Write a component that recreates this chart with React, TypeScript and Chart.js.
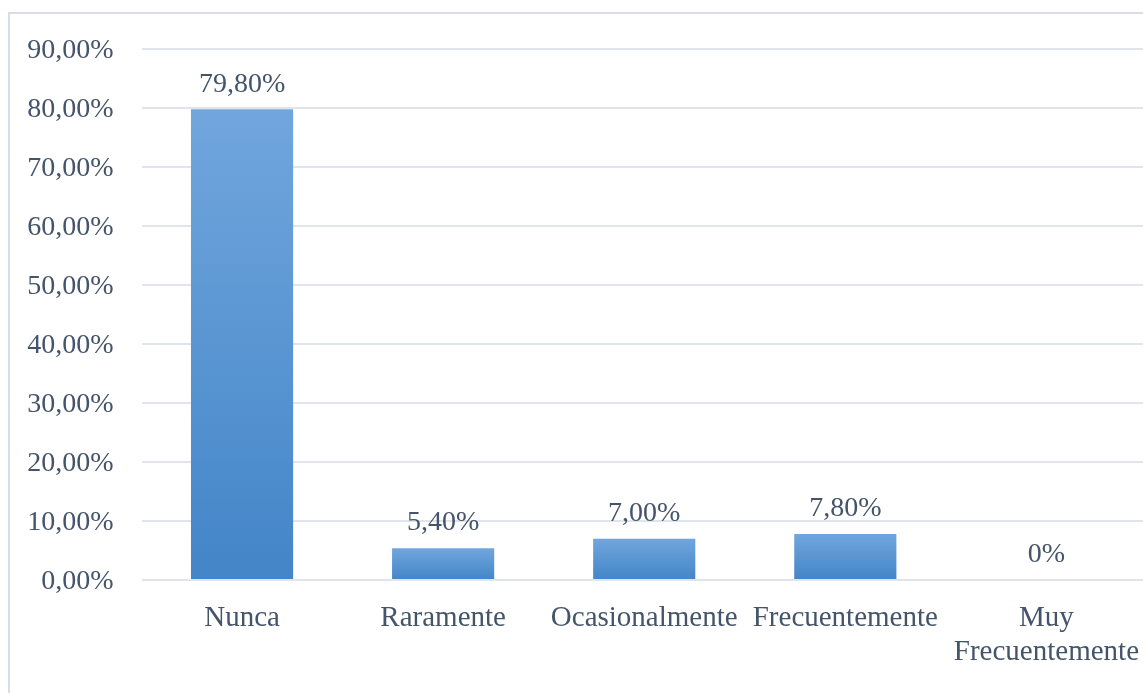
import React, { useEffect, useRef } from "react";
import { Chart, registerables } from "chart.js";

Chart.register(...registerables);

const categories: (string | string[])[] = ["Nunca", "Raramente", "Ocasionalmente", "Frecuentemente", ["Muy", "Frecuentemente"]];
const values: number[] = [79.8, 5.4, 7.0, 7.8, 0];
const valueLabels: string[] = ["79,80%", "5,40%", "7,00%", "7,80%", "0%"];
const yTicks: number[] = [0, 10, 20, 30, 40, 50, 60, 70, 80, 90];

const TEXT = "#44546a";
const FONT = "'Liberation Serif', 'Times New Roman', serif";

export default function App() {
  const ref = useRef<HTMLCanvasElement | null>(null);

  useEffect(() => {
    if (!ref.current) return;
    const frame = {
      id: "frame",
      beforeDraw(chart: any) {
        const ctx = chart.ctx;
        ctx.save();
        ctx.fillStyle = "#ffffff";
        ctx.fillRect(0, 0, chart.width, chart.height);
        ctx.fillStyle = "#d9dde4";
        ctx.fillRect(8, 12, 2, 800);
        ctx.fillRect(8, 12, 1300, 2);
        ctx.restore();
      },
    };
    const dataLabels = {
      id: "dataLabels",
      afterDatasetsDraw(chart: any) {
        const ctx = chart.ctx;
        const meta = chart.getDatasetMeta(0);
        ctx.save();
        ctx.font = `28px ${FONT}`;
        ctx.fillStyle = TEXT;
        ctx.textAlign = "center";
        ctx.textBaseline = "middle";
        meta.data.forEach((bar: any, i: number) => {
          ctx.fillText(valueLabels[i], bar.x, bar.y - 25);
        });
        ctx.restore();
      },
    };
    const chart = new Chart(ref.current, {
      type: "bar",
      data: {
        labels: categories,
        datasets: [
          {
            data: values,
            categoryPercentage: 1,
            barPercentage: 0.508,
            backgroundColor: (c: any) => {
              const ch = c.chart;
              const ys = ch.scales && ch.scales.y;
              if (!ys || c.raw === undefined) return "#5b9bd5";
              const top = ys.getPixelForValue(c.raw);
              const bottom = ys.getPixelForValue(0);
              if (!isFinite(top) || !isFinite(bottom) || bottom - top < 1) return "#5b9bd5";
              const g = ch.ctx.createLinearGradient(0, top, 0, bottom);
              g.addColorStop(0, "#71a6dd");
              g.addColorStop(1, "#4385c8");
              return g;
            },
          },
        ],
      },
      options: {
        animation: false,
        responsive: false,
        maintainAspectRatio: false,
        layout: { padding: { top: 49, left: 0, right: 0, bottom: 0 } },
        plugins: { legend: { display: false }, tooltip: { enabled: false } },
        scales: {
          x: {
            grid: { display: false },
            border: { display: false },
            ticks: {
              color: TEXT,
              font: { family: FONT, size: 29, lineHeight: 1.17 },
              padding: 13,
              maxRotation: 0,
              autoSkip: false,
            },
            afterFit(scale: any) {
              scale.height = 693 - 580;
            },
          },
          y: {
            min: 0,
            max: 90,
            afterBuildTicks(scale: any) {
              scale.ticks = yTicks.map((v) => ({ value: v }));
            },
            grid: { color: "#e0e4eb", lineWidth: 2, drawTicks: false },
            border: { display: false },
            ticks: {
              color: TEXT,
              font: { family: FONT, size: 28 },
              padding: 28,
              labelOffset: 2,
              callback: (v: any) => `${Number(v).toFixed(2).replace(".", ",")}%`,
            },
            afterFit(scale: any) {
              scale.width = 141.5;
            },
          },
        },
      },
      plugins: [frame, dataLabels],
    });
    return () => chart.destroy();
  }, []);

  return (
    <div style={{ position: "fixed", left: 0, top: 0, width: 1143, height: 693, overflow: "hidden", background: "#fff" }}>
      <canvas ref={ref} width={1152} height={693} style={{ display: "block", width: 1152, height: 693 }} />
    </div>
  );
}
